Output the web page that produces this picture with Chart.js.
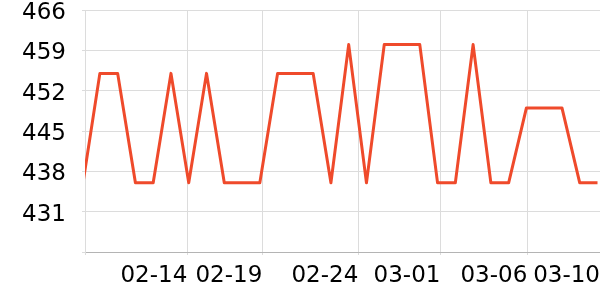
<!DOCTYPE html>
<html>
<head>
<meta charset="utf-8">
<script src="https://cdn.jsdelivr.net/npm/chart.js@4"></script>
<style>
html,body{margin:0;padding:0;background:#fff;}
#wrap{width:600px;height:300px;}
</style>
</head>
<body>
<div id="wrap"><canvas id="c" width="600" height="300"></canvas></div>
<script>
// Data (x = sample index, y = value)
const values = [435,455,455,436,436,455,436,455,436,436,436,455,455,455,436,460,436,460,460,460,436,436,460,436,436,449,449,449,436,436];
const tickLabels = ['', '02-14', '02-19', '02-24', '03-01', '03-06', '03-10'];
const tickPositions = [0.163, 5.92, 10.14, 15.54, 20.16, 25.05, 29.14];
const xMin = 0.163, xMax = 29.14;
const yMin = 424, yMax = 466, yStep = 7;

const points = values.map((v, i) => ({x: i, y: v}));
const FONT = {family: 'DejaVu Sans', size: 23};

new Chart(document.getElementById('c'), {
  type: 'line',
  data: {
    datasets: [{
      data: points,
      borderColor: '#ef4a2b',
      borderWidth: 3,
      borderJoinStyle: 'round',
      pointRadius: 0,
      tension: 0,
      fill: false,
      clip: 0
    }]
  },
  options: {
    responsive: false,
    animation: false,
    events: [],
    layout: {padding: {top: 0, right: 0, bottom: 0, left: 0}},
    plugins: {legend: {display: false}, tooltip: {enabled: false}},
    scales: {
      x: {
        type: 'linear',
        min: xMin,
        max: xMax,
        afterBuildTicks: s => { s.ticks = tickPositions.map(v => ({value: v})); },
        afterFit: s => { s.height = 48; s.paddingLeft = 0; s.paddingRight = 0; },
        ticks: {
          autoSkip: false,
          maxRotation: 0,
          align: 'end',
          padding: 7,
          color: '#000',
          font: FONT,
          callback: (v, i) => tickLabels[i]
        },
        grid: {
          color: ctx => (ctx.index === tickPositions.length - 1 ? 'rgba(0,0,0,0)' : '#dcdcdc'),
          lineWidth: 1,
          tickLength: 3,
          drawTicks: true
        },
        border: {color: '#b4b4b4', width: 1}
      },
      y: {
        min: yMin,
        max: yMax,
        afterBuildTicks: s => {
          const t = [];
          for (let v = yMin; v <= yMax + 1e-9; v += yStep) t.push({value: v});
          s.ticks = t;
        },
        afterFit: s => { s.width = 85; s.paddingTop = 10; s.paddingBottom = 0; },
        ticks: {
          padding: 16,
          labelOffset: 3,
          color: '#000',
          font: FONT,
          callback: v => (v === yMin ? '' : String(v))
        },
        grid: {color: '#dcdcdc', lineWidth: 1, tickLength: 3},
        border: {color: '#dcdcdc', width: 1}
      }
    }
  }
});
</script>
</body>
</html>
